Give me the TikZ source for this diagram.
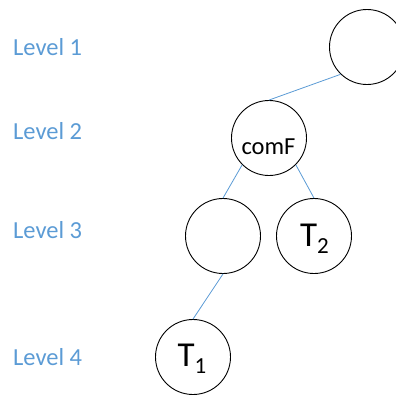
\documentclass[tikz,border=0pt]{standalone}
\usepackage{fontspec}
\setmainfont{Carlito}
\definecolor{levelblue}{HTML}{5B9BD5}
\begin{document}
\begin{tikzpicture}[x=1pt,y=-1pt,
  treenode/.style={draw=black,line width=0.9pt,circle,minimum size=75pt,inner sep=0pt},
  edge/.style={draw=levelblue,line width=0.8pt},
  levellabel/.style={anchor=base west,inner sep=0pt,text=levelblue,font=\fontsize{24.5}{24.5}\selectfont},
  nodetext/.style={anchor=base,inner sep=0pt,font=\fontsize{24.5}{24.5}\selectfont},
  bigtext/.style={anchor=base,inner sep=0pt,font=\fontsize{35}{35}\selectfont}]
\useasboundingbox (0,0) rectangle (396,394);

% level labels
\node[levellabel] (l1) at (13,55) {Level 1};
\node[levellabel] (l2) at (13,139) {Level 2};
\node[levellabel] (l3) at (13,238) {Level 3};
\node[levellabel] (l4) at (13,365) {Level 4};

% tree nodes
\node[treenode] (root) at (367,47) {};
\node[treenode] (comF) at (269,138) {};
\node[treenode] (left) at (223,236) {};
\node[treenode] (t2) at (314,236) {};
\node[treenode] (t1) at (193,357) {};

% texts inside the nodes
\node[nodetext] (comFtext) at (268.5,154) {comF};
\node[bigtext] (t2text) at (314.5,246.7) {T\raisebox{-6.5pt}{\fontsize{23}{23}\selectfont 2}};
\node[bigtext] (t1text) at (192,366.7) {T\raisebox{-7pt}{\fontsize{23}{23}\selectfont 1}};

% edges
\draw[edge] (root.226) -- (comF.north);
\draw[edge] (comF.225) -- (left.north);
\draw[edge] (comF.-45) -- (t2.north);
\draw[edge] (left.south) -- (t1.north);
\end{tikzpicture}
\end{document}
